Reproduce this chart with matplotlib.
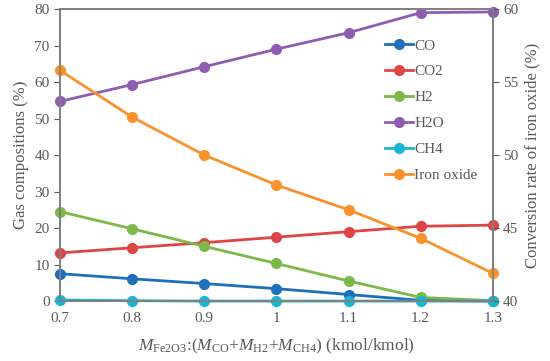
import numpy as np
import matplotlib.pyplot as plt

plt.rcParams['font.family'] = ['Liberation Serif', 'DejaVu Serif']
plt.rcParams['mathtext.fontset'] = 'custom'
plt.rcParams['mathtext.rm'] = 'Liberation Serif'
plt.rcParams['mathtext.it'] = 'Liberation Serif:italic'

ratio = [0.7, 0.8, 0.9, 1.0, 1.1, 1.2, 1.3]
co = [7.5, 6.1, 4.8, 3.4, 1.8, 0.2, 0.0]
co2 = [13.2, 14.6, 16.0, 17.5, 19.0, 20.5, 20.8]
h2 = [24.5, 19.8, 15.0, 10.3, 5.5, 1.0, 0.1]
h2o = [54.7, 59.3, 64.2, 69.0, 73.5, 79.0, 79.2]
ch4 = [0.3, 0.1, 0.0, 0.0, 0.0, 0.0, 0.0]
iron_oxide = [55.8, 52.6, 50.0, 47.95, 46.25, 44.3, 41.9]

gray = '#595959'
spine_c = '#7f7f7f'

fig = plt.figure(figsize=(5.5, 3.61), dpi=100)
ax = fig.add_axes([0.109, 0.166, 0.787, 0.809])
ax2 = ax.twinx()

lines = []
for vals, name, c in [(co, 'CO', '#1f6fba'), (co2, 'CO2', '#e04444'),
                      (h2, 'H2', '#7cb84a'), (h2o, 'H2O', '#8e5db2'),
                      (ch4, 'CH4', '#17b6d2')]:
    l, = ax.plot(ratio, vals, '-o', color=c, lw=2, ms=7, label=name, clip_on=False)
    lines.append(l)
l, = ax2.plot(ratio, iron_oxide, '-o', color='#f7922d', lw=2, ms=7,
              label='Iron oxide', clip_on=False)
lines.append(l)

ax.set_xlim(0.7, 1.3)
ax.set_ylim(0, 80)
ax.set_yticks(np.arange(0, 81, 10))
ax.set_xticks(ratio)
ax.set_xticklabels(['0.7', '0.8', '0.9', '1', '1.1', '1.2', '1.3'])
ax2.set_ylim(40, 60)
ax2.set_yticks([40, 45, 50, 55, 60])

for a in (ax, ax2):
    for s in a.spines.values():
        s.set_color(spine_c)
        s.set_linewidth(1.2)
    a.tick_params(colors=gray, labelsize=11, length=4)
ax.tick_params(axis='x', length=0, pad=8)

ax.set_ylabel('Gas compositions (%)', color=gray, fontsize=12)
ax2.set_ylabel('Conversion rate of iron oxide (%)', color=gray, fontsize=12)
ax.set_xlabel(r'$M_{\mathrm{Fe2O3}}$:($M_{\mathrm{CO}}$+$M_{\mathrm{H2}}$+$M_{\mathrm{CH4}}$) (kmol/kmol)',
              color=gray, fontsize=12.5, labelpad=8)

leg = ax2.legend(lines, [l.get_label() for l in lines], loc='upper left',
                 bbox_to_anchor=(0.72, 0.945), frameon=False, fontsize=11,
                 labelspacing=0.8, handlelength=1.8, handletextpad=0.1)
for t in leg.get_texts():
    t.set_color(gray)

fig.savefig('out.png', dpi=100)
